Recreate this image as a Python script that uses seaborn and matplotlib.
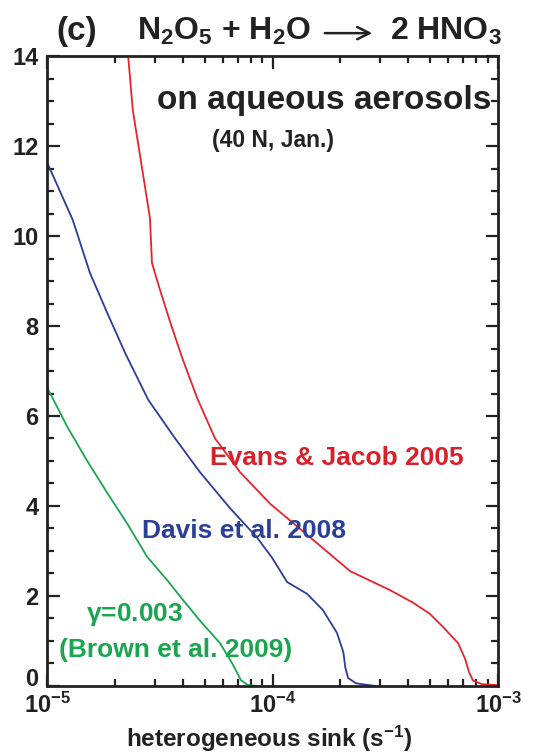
import numpy as np
import pandas as pd
import seaborn as sns
import matplotlib
matplotlib.use("Agg")
import matplotlib.pyplot as plt
from matplotlib.ticker import FixedLocator, LogLocator, NullFormatter

# heterogeneous sink (s-1) vs altitude (km)
evans_sink = [2.29e-5, 2.40e-5, 2.64e-5, 2.86e-5, 2.92e-5, 3.17e-5, 3.51e-5, 3.97e-5,
              4.63e-5, 5.56e-5, 7.18e-5, 9.75e-5, 1.47e-4, 2.21e-4, 3.32e-4, 4.20e-4,
              4.99e-4, 5.70e-4, 6.65e-4, 7.14e-4, 7.44e-4, 7.74e-4, 8.49e-4, 9.9e-4]
evans_alt = [14.0, 12.8, 11.5, 10.4, 9.4, 8.8, 8.1, 7.3,
             6.4, 5.5, 4.75, 4.05, 3.3, 2.55, 2.13, 1.85,
             1.6, 1.31, 0.95, 0.6, 0.3, 0.12, 0.04, 0.02]

davis_sink = [1.0e-5, 1.30e-5, 1.55e-5, 1.85e-5, 2.22e-5, 2.81e-5, 3.70e-5, 4.77e-5,
              6.48e-5, 8.53e-5, 9.95e-5, 1.16e-4, 1.42e-4, 1.67e-4, 1.93e-4, 2.06e-4,
              2.10e-4, 2.16e-4, 2.34e-4, 2.85e-4]
davis_alt = [11.64, 10.36, 9.18, 8.29, 7.4, 6.36, 5.5, 4.75,
             3.95, 3.3, 2.85, 2.31, 2.05, 1.69, 1.18, 0.75,
             0.42, 0.18, 0.06, 0.0]

brown_sink = [1.0e-5, 1.23e-5, 1.50e-5, 1.85e-5, 2.26e-5, 2.78e-5, 3.40e-5, 4.01e-5,
              4.77e-5, 5.85e-5, 6.61e-5, 7.24e-5, 7.78e-5, 8.6e-5]
brown_alt = [6.64, 5.76, 5.02, 4.29, 3.62, 2.87, 2.36, 1.91,
             1.45, 0.95, 0.51, 0.13, 0.02, 0.0]

x_ticks = [1e-5, 1e-4, 1e-3]
x_labels = ["10$^{-5}$", "10$^{-4}$", "10$^{-3}$"]
y_ticks = [0, 2, 4, 6, 8, 10, 12, 14]

sns.set_style("ticks")
plt.rcParams["font.family"] = ["Liberation Sans", "DejaVu Sans"]
plt.rcParams["font.weight"] = "bold"
plt.rcParams["mathtext.fontset"] = "custom"
plt.rcParams["mathtext.rm"] = "Liberation Sans:bold"
plt.rcParams["mathtext.it"] = "Liberation Sans:bold"
plt.rcParams["mathtext.bf"] = "Liberation Sans:bold"
plt.rcParams["mathtext.default"] = "bf"

ink = "#222222"
red = "#e8232b"
blue = "#2c3d98"
green = "#1aa64f"

fig = plt.figure(figsize=(5.39, 7.53), dpi=100)
ax = fig.add_axes([0.0872, 0.089, 0.837, 0.8366])

curves = [(evans_sink, evans_alt, red), (davis_sink, davis_alt, blue), (brown_sink, brown_alt, green)]
for sink, alt, col in curves:
    df = pd.DataFrame({"sink": sink, "alt": alt})
    sns.lineplot(data=df, x="sink", y="alt", sort=False, estimator=None,
                 color=col, linewidth=1.3, ax=ax)

ax.set_xscale("log")
ax.set_xlim(1e-5, 1e-3)
ax.set_ylim(0, 14)
ax.xaxis.set_major_locator(FixedLocator(x_ticks))
ax.set_xticklabels(x_labels)
ax.xaxis.set_minor_locator(LogLocator(base=10, subs=np.arange(2, 10)))
ax.xaxis.set_minor_formatter(NullFormatter())
ax.set_yticks(y_ticks)
ax.set_yticklabels([str(v) for v in y_ticks])
ax.yaxis.set_minor_locator(FixedLocator(np.arange(0, 14.01, 0.5)))

ax.tick_params(which="both", direction="in", top=True, right=True, width=1.6, colors=ink)
ax.tick_params(which="major", length=9, labelsize=17, pad=6)
ax.tick_params(which="minor", length=5)
ax.tick_params(axis="x", which="major", pad=5)
for s in ax.spines.values():
    s.set_linewidth(2)
    s.set_color(ink)
# the "0" label sits just above the bottom axis in the original
ax.get_yticklabels()[0].set_va("baseline")

ax.set_xlabel("")
ax.set_ylabel("")
fig.text(0.5, 0.019, "heterogeneous sink (s$^{-1}$)", fontsize=17.5, fontweight="bold",
         ha="center", va="center", color=ink)

# title, assembled from pieces so the long arrow can be drawn
ty = 0.958
fig.text(0.143, ty, "(c)", fontsize=24, fontweight="bold", ha="center", va="center", color=ink)
fig.text(0.254, ty, r"N$_2$O$_5$ + H$_2$O", fontsize=23, fontweight="bold",
         ha="left", va="center", color=ink)
fig.text(0.724, ty, r"2 HNO$_3$", fontsize=23, fontweight="bold",
         ha="left", va="center", color=ink)
fig.patches.append(matplotlib.patches.FancyArrowPatch(
    (322 / 539, ty - 0.002), (375 / 539, ty - 0.002), transform=fig.transFigure,
    arrowstyle="->", mutation_scale=22, linewidth=1.8, color=ink))

ax.text(0.985, 0.93, "on aqueous aerosols", transform=ax.transAxes, fontsize=24,
        fontweight="bold", ha="right", va="center", color=ink)
ax.text(0.50, 0.866, "(40 N, Jan.)", transform=ax.transAxes, fontsize=16.5,
        fontweight="bold", ha="center", va="center", color=ink)
ax.text(0.643, 0.362, "Evans & Jacob 2005", transform=ax.transAxes, fontsize=19,
        fontweight="bold", ha="center", va="center", color="#d9202a")
ax.text(0.437, 0.246, "Davis et al. 2008", transform=ax.transAxes, fontsize=19,
        fontweight="bold", ha="center", va="center", color="#2a3f98")
ax.text(0.195, 0.114, r"$\gamma$=0.003", transform=ax.transAxes, fontsize=19,
        fontweight="bold", ha="center", va="center", color=green)
ax.text(0.286, 0.057, "(Brown et al. 2009)", transform=ax.transAxes, fontsize=19,
        fontweight="bold", ha="center", va="center", color=green)

fig.savefig("out.png", dpi=100, facecolor="white")
